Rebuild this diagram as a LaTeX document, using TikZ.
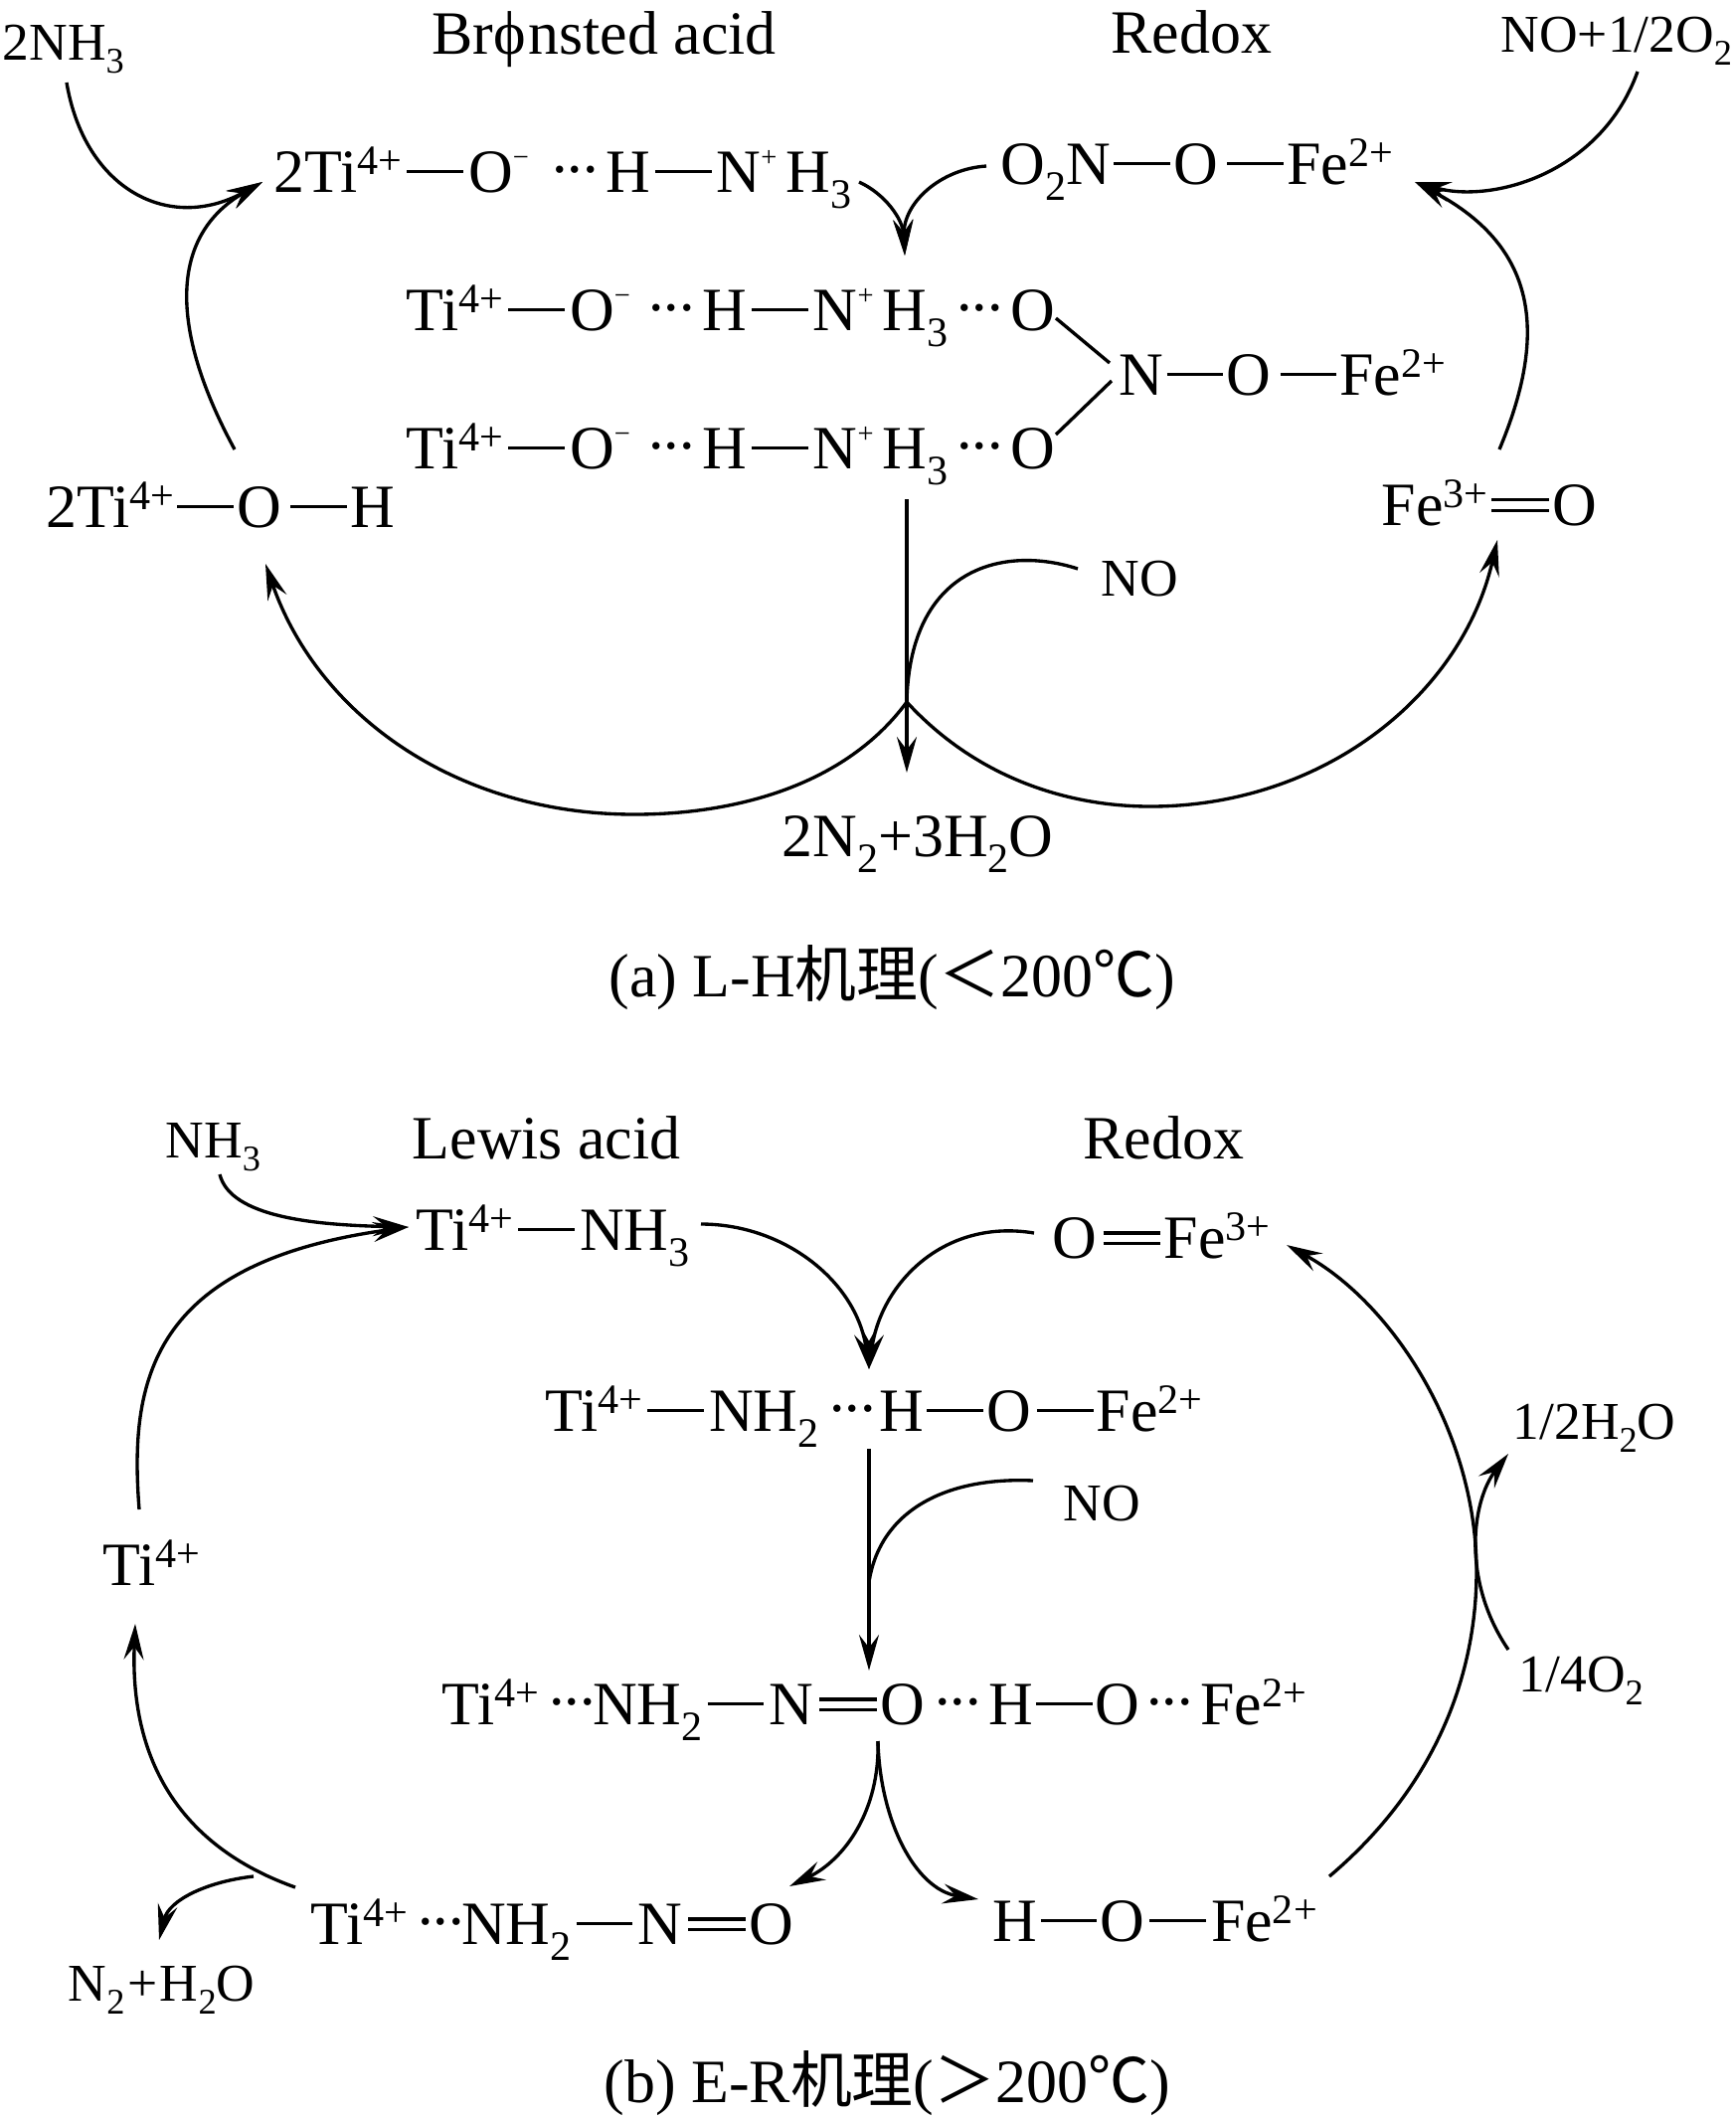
\documentclass[tikz,border=0pt]{standalone}
\usepackage{fontspec}
\setmainfont{Liberation Serif}
\newfontfamily\cjk{Noto Sans CJK SC}
\usetikzlibrary{arrows.meta}
\newcommand{\spr}[1]{\raisebox{0.28em}{\scalebox{0.68}{#1}}}
\newcommand{\chg}[1]{\raisebox{0.42em}{\scalebox{0.46}{#1}}}
\newcommand{\sbs}[1]{\raisebox{-0.26em}{\scalebox{0.68}{#1}}}
\newcommand{\bnd}{\hspace{0.08em}\rule[0.3em]{0.92em}{0.05em}\hspace{0.08em}}
\newcommand{\bnda}{\hspace{0.05em}\rule[0.3em]{0.92em}{0.05em}\hspace{0.05em}}
\newcommand{\dbl}{\hspace{0.1em}\rlap{\rule[0.38em]{0.93em}{0.05em}}\rule[0.21em]{0.93em}{0.05em}\hspace{0.06em}}
\newcommand{\dts}{\hspace{0.11em}\raisebox{0.32em}{...}\hspace{0.12em}}
\tikzset{
  chem/.style={inner sep=0pt,anchor=base west,font=\fontsize{17.6}{20}\selectfont},
  chems/.style={inner sep=0pt,anchor=base west,font=\fontsize{15.2}{18}\selectfont},
  rxn/.style={-{Stealth[length=3.6mm,width=2mm,inset=1.3mm]},line width=0.95pt},
  lnk/.style={line width=0.95pt}
}
\begin{document}
\begin{tikzpicture}[x=0.01cm,y=-0.01cm]
\useasboundingbox (0,0) rectangle (1746,2129);
% upper scheme
\node[chems] (nhb) at (2,60) {2NH\sbs{3}};
\node[chem] (brn) at (434,54) {Brϕ\hspace{0.04em}nsted acid};
\node[chem] (rdx) at (1117,53) {Redox};
\node[chems] (nop) at (1509,52) {NO+1/2O\sbs{2}};
\node[chem] (ta) at (275,193) {2Ti\spr{4+}\bnd O\chg{−}\hspace{0.27em}\dts H\bnd N\chg{+}\hspace{0.15em}H\sbs{3}};
\node[chem] (oa) at (1006,185) {O\sbs{2}N\bnda O\hspace{0.1em}\bnda Fe\spr{2+}};
\node[chem] (tb) at (408,332) {Ti\spr{4+}\bnd O\chg{−}\hspace{0.19em}\dts H\bnd N\chg{+}\hspace{0.15em}H\sbs{3}\hspace{0.03em}\dts O};
\node[chem] (nc) at (1125,397) {N\bnda O\hspace{0.1em}\bnda Fe\spr{2+}};
\node[chem] (tc) at (408,471) {Ti\spr{4+}\bnd O\chg{−}\hspace{0.19em}\dts H\bnd N\chg{+}\hspace{0.15em}H\sbs{3}\hspace{0.03em}\dts O};
\node[chem] (toh) at (46,530) {2Ti\spr{4+}\bnda O\hspace{0.1em}\bnda H};
\node[chem] (feo) at (1389,528) {Fe\spr{3+}\hspace{-0.04em}\dbl O};
\node[chems] (nod) at (1107,599) {NO};
\node[chem] (prd) at (786,861) {2N\sbs{2}+3H\sbs{2}O};
\node[chem] (cpa) at (612,1002) {(a) L-H{\cjk 机理}({\cjk ＜}200{\cjk ℃})};
\coordinate (jn) at (912,706);
\draw[rxn] ([shift={(65,23)}]nhb.base west) .. controls (85,190) and (170,235) .. ([shift={(-11,-10)}]ta.base west);
\draw[rxn] ([shift={(190,-78)}]toh.base west) .. controls (175,340) and (165,240) .. ([shift={(-11,-10)}]ta.base west);
\draw[rxn] ([shift={(589,-10)}]ta.base west) .. controls (890,195) and (908,220) .. ([shift={(502,-75)}]tb.base west);
\draw[rxn] ([shift={(-14,-18)}]oa.base west) .. controls (945,170) and (908,205) .. ([shift={(502,-75)}]tb.base west);
\draw[rxn] ([shift={(138,20)}]nop.base west) .. controls (1610,175) and (1500,205) .. ([shift={(417,-2)}]oa.base west);
\draw[rxn] ([shift={(119,-76)}]feo.base west) .. controls (1555,340) and (1550,250) .. ([shift={(417,-2)}]oa.base west);
\draw[lnk] ([shift={(654,-12)}]tb.base west) -- ([shift={(-9,-32)}]nc.base west);
\draw[lnk] ([shift={(654,-34)}]tc.base west) -- ([shift={(-7,-14)}]nc.base west);
\draw[rxn] ([shift={(504,31)}]tc.base west) -- ([shift={(126,-84)}]prd.base west);
\draw[lnk] ([shift={(-23,-27)}]nod.base west) .. controls (1010,548) and (915,570) .. (jn);
\draw[rxn] (jn) .. controls (850,790) and (740,819) .. (638,819) .. controls (460,819) and (320,720) .. ([shift={(221,37)}]toh.base west);
\draw[rxn] (jn) .. controls (980,780) and (1070,811) .. (1157,811) .. controls (1330,811) and (1470,700) .. ([shift={(117,15)}]feo.base west);
% lower scheme
\node[chems] (nhc) at (166,1164) {NH\sbs{3}};
\node[chem] (lwa) at (414,1165) {Lewis acid};
\node[chem] (rdb) at (1089,1165) {Redox};
\node[chem] (td) at (418,1257) {Ti\spr{4+}\bnd NH\sbs{3}};
\node[chem] (fd) at (1058,1265) {O\dbl Fe\spr{3+}};
\node[chem] (te) at (548,1439) {Ti\spr{4+}\bnd NH\sbs{2}\hspace{0.06em}\dts\hspace{-0.06em}H\bnda O\hspace{0.05em}\bnda Fe\spr{2+}};
\node[chems] (nof) at (1069,1529) {NO};
\node[chems] (hwa) at (1521,1447) {1/2H\sbs{2}O};
\node[chems] (ofo) at (1527,1701) {1/4O\sbs{2}};
\node[chem] (tf) at (103,1594) {Ti\spr{4+}};
\node[chem] (tg) at (444,1734) {Ti\spr{4+}\hspace{0.05em}\dts\hspace{-0.16em}NH\sbs{2}\bnd N\dbl O\hspace{0.05em}\dts H\bnda O\dts Fe\spr{2+}};
\node[chem] (th) at (312,1955) {Ti\spr{4+}\hspace{0.05em}\dts\hspace{-0.16em}NH\sbs{2}\bnd N\dbl O};
\node[chem] (hi) at (998,1952) {H\bnda O\bnd Fe\spr{2+}};
\node[chems] (nwa) at (68,2012) {N\sbs{2}\hspace{0.05em}+\hspace{0.05em}H\sbs{2}O};
\node[chem] (cpb) at (607,2114) {(b) E-R{\cjk 机理}({\cjk ＞}200{\cjk ℃})};
\coordinate (jf) at (874,1591);
\draw[rxn] ([shift={(55,17)}]nhc.base west) .. controls (232,1225) and (320,1232) .. ([shift={(-7,-23)}]td.base west);
\draw[rxn] ([shift={(37,-76)}]tf.base west) .. controls (130,1390) and (150,1270) .. ([shift={(-7,-23)}]td.base west);
\draw[rxn] ([shift={(287,-26)}]td.base west) .. controls (790,1231) and (862,1290) .. ([shift={(326,-62)}]te.base west);
\draw[rxn] ([shift={(-18,-25)}]fd.base west) .. controls (950,1225) and (886,1290) .. ([shift={(326,-62)}]te.base west);
\draw[rxn] ([shift={(326,18)}]te.base west) -- ([shift={(430,-54)}]tg.base west);
\draw[lnk] ([shift={(-30,-40)}]nof.base west) .. controls (950,1485) and (885,1520) .. (jf);
\draw[rxn] ([shift={(339,-65)}]hi.base west) .. controls (1440,1800) and (1485,1690) .. (1485,1580) .. controls (1485,1440) and (1400,1310) .. ([shift={(236,-13)}]fd.base west);
\draw[rxn] ([shift={(-10,-42)}]ofo.base west) .. controls (1470,1590) and (1480,1510) .. ([shift={(-4,15)}]hwa.base west);
\draw[rxn] ([shift={(439,17)}]tg.base west) .. controls (885,1820) and (850,1870) .. ([shift={(482,-58)}]th.base west);
\draw[rxn] ([shift={(439,17)}]tg.base west) .. controls (885,1830) and (920,1900) .. ([shift={(-14,-42)}]hi.base west);
\draw[rxn] ([shift={(-15,-57)}]th.base west) .. controls (190,1860) and (130,1780) .. ([shift={(33,39)}]tf.base west);
\draw[rxn] ([shift={(-57,-68)}]th.base west) .. controls (210,1892) and (170,1910) .. ([shift={(92,-61)}]nwa.base west);
\end{tikzpicture}
\end{document}
